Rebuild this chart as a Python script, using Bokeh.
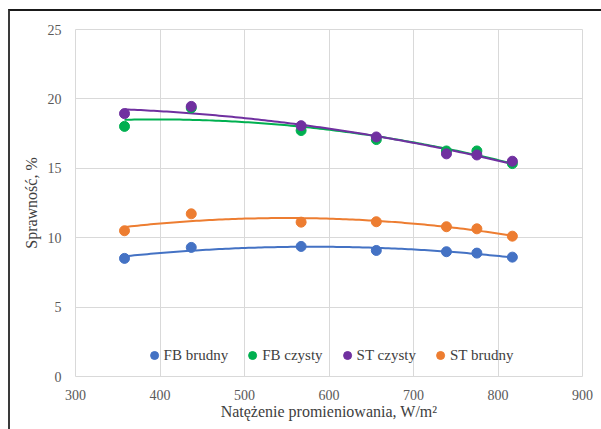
import numpy as np
from bokeh.plotting import figure
from bokeh.models import Legend, LegendItem, Range1d, FixedTicker
from bokeh.embed import file_html
from bokeh.resources import INLINE

# Data
irradiance = [358, 437, 567, 656, 739, 775, 817]
fb_brudny = [8.51, 9.30, 9.37, 9.08, 8.99, 8.89, 8.60]
fb_czysty = [18.02, 19.35, 17.72, 17.07, 16.25, 16.25, 15.34]
st_czysty = [18.94, 19.46, 18.07, 17.26, 16.04, 15.96, 15.51]
st_brudny = [10.50, 11.72, 11.12, 11.15, 10.79, 10.64, 10.11]

series_names = ["FB brudny", "FB czysty", "ST czysty", "ST brudny"]
series_values = [fb_brudny, fb_czysty, st_czysty, st_brudny]
colors = ["#4472C4", "#00B050", "#7030A0", "#ED7D31"]

x_ticks = [300, 400, 500, 600, 700, 800, 900]
y_ticks = [0, 5, 10, 15, 20, 25]

FONT = "Liberation Serif"

p = figure(
    frame_width=507, frame_height=347,
    min_border_left=65, min_border_right=19, min_border_top=18, min_border_bottom=53,
    x_range=Range1d(300, 900), y_range=Range1d(0, 25),
    output_backend="svg", toolbar_location=None,
)
p.margin = (9, 0, 0, 8)
p.styles = {"border-top": "2px solid #1a1a1a", "border-left": "2px solid #3a3a3a"}

p.outline_line_color = "#d9d9d9"
p.outline_line_width = 1
p.background_fill_color = "white"
p.border_fill_color = "white"

for ax in (p.xaxis[0], p.yaxis[0]):
    ax.axis_line_color = None
    ax.major_tick_line_color = None
    ax.minor_tick_line_color = None
    ax.major_label_text_font = FONT
    ax.major_label_text_font_size = "14px"
    ax.major_label_text_color = "#595959"
    ax.axis_label_text_font = FONT
    ax.axis_label_text_font_size = "16px"
    ax.axis_label_text_font_style = "normal"
    ax.axis_label_text_color = "#404040"

p.xaxis.ticker = FixedTicker(ticks=x_ticks)
p.yaxis.ticker = FixedTicker(ticks=y_ticks)
p.xaxis.major_label_standoff = 7
p.yaxis.major_label_standoff = 8
p.xaxis.axis_label = "Natężenie promieniowania, W/m²"
p.yaxis.axis_label = "Sprawność, %"
p.xaxis.axis_label_standoff = 0
p.yaxis.axis_label_standoff = 5

p.xgrid.ticker = FixedTicker(ticks=x_ticks)
p.ygrid.ticker = FixedTicker(ticks=y_ticks)
p.grid.grid_line_color = "#d9d9d9"
p.grid.grid_line_width = 1

items = []
xs = np.array(irradiance, dtype=float)
xfit = np.linspace(xs.min(), xs.max(), 120)
for name, vals, col in zip(series_names, series_values, colors):
    coef = np.polyfit(xs, np.array(vals), 2)
    p.line(xfit, np.polyval(coef, xfit), line_color=col, line_width=2)

for name, vals, col in zip(series_names, series_values, colors):
    r = p.scatter(irradiance, vals, size=10, marker="circle",
                  fill_color=col, line_color=col)
    items.append(LegendItem(label=name, renderers=[r]))

legend = Legend(items=items, location="bottom_center", orientation="horizontal")
legend.border_line_color = None
legend.background_fill_alpha = 0
legend.label_text_font = FONT
legend.label_text_font_size = "15px"
legend.label_text_color = "#404040"
legend.glyph_width = 20
legend.glyph_height = 22
legend.label_standoff = 0
legend.spacing = 14
legend.padding = 1
legend.margin = 10
p.add_layout(legend, "center")

open("out.html", "w").write(file_html(p, INLINE))
